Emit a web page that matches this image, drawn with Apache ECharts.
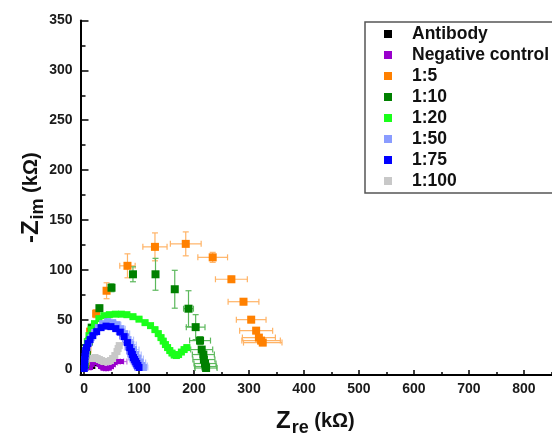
<!DOCTYPE html>
<html>
<head>
<meta charset="utf-8">
<script src="https://cdn.jsdelivr.net/npm/echarts@6/dist/echarts.min.js"></script>
<style>html,body{margin:0;padding:0;background:#fff;}#c{width:552px;height:433px;}</style>
</head>
<body>
<div id="c"></div>
<script>
// ---------------- data ----------------
const categories = ['Antibody', 'Negative control', '1:5', '1:10', '1:20', '1:50', '1:75', '1:100'];
const xTicks = [0, 100, 200, 300, 400, 500, 600, 700, 800];
const xMinorTicks = [50, 150, 250, 350, 450, 550, 650, 750, 850];
const yTicks = [0, 50, 100, 150, 200, 250, 300, 350];
const yMinorTicks = [25, 75, 125, 175, 225, 275, 325];

// Antibody
const ab_x = [16, 19, 22, 25, 28, 31];
const ab_y = [3, 6, 8, 8, 6, 3];
const ab_ex = [0, 0, 0, 0, 0, 0];
const ab_ey = [0, 0, 0, 0, 0, 0];
// Negative control
const nc_x = [12, 15, 18, 21, 24, 27, 30, 34, 38, 42, 46, 50, 53, 56, 60, 64, 68];
const nc_y = [2, 5, 7, 8, 7, 5, 3, 1.5, 1, 1, 1.5, 3, 5, 7, 8, 8, 8];
const nc_ex = [1, 1, 1, 1, 1, 1, 1, 2, 2, 2, 3, 3, 4, 5, 6, 8, 10];
const nc_ey = [0, 0, 0, 0, 0, 0, 0, 0, 0, 0, 0, 0, 0, 0, 0, 0, 0];
// 1:5
const r5_x = [3, 6, 11, 22, 41, 79, 129, 185, 234, 268, 290, 304, 313, 318, 322, 325];
const r5_y = [8, 20, 38, 56, 79, 104, 123, 126, 112.5, 90.5, 68, 50, 39, 32, 29, 27];
const r5_ex = [1, 2, 3, 4, 5, 14, 22, 28, 27, 29, 28, 27, 30, 30, 35, 35];
const r5_ey = [1, 2, 3, 4, 8, 12, 14, 12, 5, 3, 3, 3, 3, 3, 3, 3];
// 1:10
const r10_x = [2, 5, 9, 14, 28, 50, 89, 130, 165, 190, 203, 211, 214, 217, 218, 220, 221, 222];
const r10_y = [5, 15, 28, 42, 61.5, 82, 95.5, 95.5, 80.5, 61, 42.5, 29, 20, 15, 10, 6, 3, 1.5];
const r10_ex = [1, 1, 2, 2, 3, 4, 5, 5, 5, 9, 17, 19, 20, 20, 20, 20, 20, 20];
const r10_ey = [1, 1, 2, 3, 3, 4, 7.5, 16, 19, 18, 12.5, 4, 3, 3, 3, 3, 3, 3];
// 1:20
const r20_x = [1, 2, 3, 4, 6, 9, 13, 19, 27, 36, 46, 57, 68, 78, 89, 100, 111, 121, 129, 135, 140, 144, 148, 152, 156, 160, 164, 168, 172, 177, 182, 187];
const r20_y = [4, 10, 16, 22, 28, 34, 40, 46, 51, 54, 55, 55.5, 55.5, 55, 53, 50.5, 47, 44, 40, 36, 32, 28.5, 25, 22, 19, 16.5, 14.5, 14, 15, 17.5, 20, 22];
const r20_ex = [1, 1, 1, 1, 2, 2, 2, 3, 3, 3, 4, 4, 4, 4, 5, 5, 5, 5, 5, 5, 5, 5, 5, 5, 5, 5, 5, 5, 5, 5, 5, 5];
const r20_ey = [0, 0, 0, 0, 0, 0, 0, 0, 0, 0, 0, 0, 0, 0, 0, 0, 0, 0, 0, 0, 0, 0, 0, 0, 0, 0, 0, 0, 0, 0, 0, 0];
// 1:50
const r50_x = [1, 1.5, 2, 3, 4, 6, 9, 13, 19, 26, 34, 43, 52, 60, 67, 74, 80, 85, 90, 94, 98, 102, 105, 108];
const r50_y = [2, 6, 10, 14, 18, 22, 27, 32, 37, 42, 46, 48, 47, 45, 41, 36, 30, 25, 20, 15, 11, 7, 4, 2];
const r50_ex = [0.5, 0.5, 0.5, 1, 1, 1, 2, 2, 3, 3, 4, 5, 6, 7, 8, 9, 10, 10, 10, 10, 10, 10, 10, 8];
const r50_ey = [0, 0, 0, 0, 0, 0, 0, 0, 0, 0, 0, 0, 0, 0, 0, 0, 0, 0, 0, 0, 0, 0, 0, 0];
// 1:75
const r75_x = [0.5, 0.7, 1, 1.3, 1.7, 2.2, 3, 4.5, 7, 11, 16, 23, 31, 40, 49, 58, 66, 73, 79, 83, 86, 88, 90, 92, 94, 96, 98, 100];
const r75_y = [1, 4, 7, 10, 13, 16, 19, 22, 26, 30, 34, 38, 42, 43.5, 43, 41, 37.5, 33, 27, 22, 18, 15, 12, 10, 8, 6, 4, 2];
const r75_ex = [0.5, 0.5, 0.5, 0.5, 0.5, 0.5, 1, 1, 1, 2, 2, 3, 3, 4, 5, 6, 7, 8, 8, 8, 8, 8, 8, 8, 8, 8, 8, 8];
const r75_ey = [0, 0, 0, 0, 0, 0, 0, 0, 0, 0, 0, 0, 0, 0, 0, 0, 0, 0, 0, 0, 0, 0, 0, 0, 0, 0, 0, 0];
// 1:100
const r100_x = [16, 20, 24, 28, 32, 36, 40, 44, 48, 52, 56, 60, 62, 64];
const r100_y = [11, 12, 11, 10, 9, 8, 8, 8, 9, 11, 14, 18, 21, 24];
const r100_ex = [2, 2, 3, 3, 3, 3, 4, 4, 4, 4, 4, 4, 4, 4];
const r100_ey = [0, 0, 0, 0, 0, 0, 0, 0, 0, 0, 0, 0, 0, 0];

const seriesX = [ab_x, nc_x, r5_x, r10_x, r20_x, r50_x, r75_x, r100_x];
const seriesY = [ab_y, nc_y, r5_y, r10_y, r20_y, r50_y, r75_y, r100_y];
const seriesEX = [ab_ex, nc_ex, r5_ex, r10_ex, r20_ex, r50_ex, r75_ex, r100_ex];
const seriesEY = [ab_ey, nc_ey, r5_ey, r10_ey, r20_ey, r50_ey, r75_ey, r100_ey];

// ---------------- styles ----------------
const colors = ['#000000', '#9900cc', '#ff8000', '#008000', '#1aff1a', '#8a9cff', '#0000ff', '#c8c8c8'];
const errColors = ['#555555', '#c070e0', '#ffb366', '#5cb85c', '#80ff80', '#b4c2ff', '#6a6aff', '#d4d4d4'];
const sizes = [5, 5, 8, 8, 7, 7, 7, 7];
const FONT = '"Liberation Sans", Arial, sans-serif';

function errRender(params, api) {
  const x = api.value(0), y = api.value(1), ex = api.value(2), ey = api.value(3);
  const style = { stroke: api.visual('color'), lineWidth: 1.2, fill: null };
  const cap = 3;
  const children = [];
  if (ex > 0) {
    const a = api.coord([x - ex, y]), b = api.coord([x + ex, y]);
    children.push({ type: 'line', shape: { x1: a[0], y1: a[1], x2: b[0], y2: b[1] }, style: style });
    children.push({ type: 'line', shape: { x1: a[0], y1: a[1] - cap, x2: a[0], y2: a[1] + cap }, style: style });
    children.push({ type: 'line', shape: { x1: b[0], y1: b[1] - cap, x2: b[0], y2: b[1] + cap }, style: style });
  }
  if (ey > 0) {
    const a = api.coord([x, y - ey]), b = api.coord([x, y + ey]);
    children.push({ type: 'line', shape: { x1: a[0], y1: a[1], x2: b[0], y2: b[1] }, style: style });
    children.push({ type: 'line', shape: { x1: a[0] - cap, y1: a[1], x2: a[0] + cap, y2: a[1] }, style: style });
    children.push({ type: 'line', shape: { x1: b[0] - cap, y1: b[1], x2: b[0] + cap, y2: b[1] }, style: style });
  }
  return { type: 'group', children: children };
}

const series = [];
categories.forEach(function (name, i) {
  const data = seriesX[i].map(function (v, k) { return [v, seriesY[i][k], seriesEX[i][k], seriesEY[i][k]]; });
  series.push({
    type: 'custom', name: name + ' error', renderItem: errRender, data: data,
    encode: { x: 0, y: 1 }, itemStyle: { color: errColors[i] }, silent: true, clip: false
  });
  series.push({
    type: 'scatter', name: name, data: data.map(function (d) { return [d[0], d[1]]; }),
    symbol: 'rect', symbolSize: sizes[i], itemStyle: { color: colors[i], opacity: 1 }, silent: true
  });
});

const axisLabelStyle = { fontFamily: FONT, fontWeight: 'bold', fontSize: 14, color: '#1a1a1a' };
const titleRich = {
  z: { fontFamily: FONT, fontWeight: 'bold', fontSize: 24, color: '#111', verticalAlign: 'top' },
  s: { fontFamily: FONT, fontWeight: 'bold', fontSize: 18, color: '#111', verticalAlign: 'top', padding: [10, 0, 0, 1] },
  k: { fontFamily: FONT, fontWeight: 'bold', fontSize: 20, color: '#111', verticalAlign: 'top', padding: [2, 0, 0, 0] }
};

const option = {
  animation: false,
  backgroundColor: '#ffffff',
  title: {
    text: '{z|Z}{s|re}{k| (kΩ)}',
    left: 276, top: 409, padding: 0,
    textStyle: { rich: titleRich }
  },
  graphic: [{
    type: 'rect', z: 100, silent: true,
    shape: { x: 365, y: 22, width: 260, height: 171 },
    style: { fill: null, stroke: '#555', lineWidth: 1.5 }
  }],
  legend: {
    orient: 'vertical', left: 365, top: 22,
    padding: [3, 10, 4, 19], itemGap: 3, itemWidth: 8, itemHeight: 8,
    icon: 'rect', borderWidth: 0,
    data: categories,
    textStyle: {
      fontFamily: FONT, fontWeight: 'bold', fontSize: 17.5, color: '#111', lineHeight: 16,
      rich: {
        sp: { width: 15, fontSize: 16, lineHeight: 16 },
        name: { fontFamily: FONT, fontWeight: 'bold', fontSize: 17.5, color: '#111', lineHeight: 16 }
      }
    },
    formatter: function (n) { return '{sp| }{name|' + n + '}'; }
  },
  grid: { left: 80.5, top: 20.5, width: 471.5, height: 354.5, containLabel: false },
  xAxis: [
    {
      type: 'value', min: -6.4, max: 851, position: 'bottom',
      axisLine: { show: true, onZero: false, lineStyle: { color: '#000', width: 2 } },
      axisTick: { show: true, inside: true, length: 5, customValues: xTicks, lineStyle: { color: '#000', width: 1.5 } },
      axisLabel: Object.assign({ show: true, margin: 7, customValues: xTicks }, axisLabelStyle),
      splitLine: { show: false }
    },
    {
      type: 'value', min: -6.4, max: 851, position: 'bottom', gridIndex: 0,
      axisLine: { show: false, onZero: false },
      axisTick: { show: true, inside: true, length: 3, customValues: xMinorTicks, lineStyle: { color: '#000', width: 1.5 } },
      axisLabel: { show: false },
      splitLine: { show: false }
    }
  ],
  yAxis: [
    {
      type: 'value', min: -5.5, max: 350, position: 'left',
      axisLine: { show: true, onZero: false, lineStyle: { color: '#000', width: 2 } },
      axisTick: { show: true, inside: true, length: 8, customValues: yTicks, lineStyle: { color: '#000', width: 1.5 } },
      axisLabel: Object.assign({ show: true, margin: 8, customValues: yTicks }, axisLabelStyle),
      splitLine: { show: false },
      name: '{z|-Z}{s|im}{k| (kΩ)}',
      nameLocation: 'middle', nameRotate: 90, nameGap: 33, nameMoveOverlap: false,
      nameTextStyle: { rich: titleRich }
    },
    {
      type: 'value', min: -5.5, max: 350, position: 'left', gridIndex: 0,
      axisLine: { show: false, onZero: false },
      axisTick: { show: true, inside: true, length: 5, customValues: yMinorTicks, lineStyle: { color: '#000', width: 1.5 } },
      axisLabel: { show: false },
      splitLine: { show: false }
    }
  ],
  series: series
};

const chart = echarts.init(document.getElementById('c'), null, { renderer: 'canvas' });
chart.setOption(option);
</script>
</body>
</html>
